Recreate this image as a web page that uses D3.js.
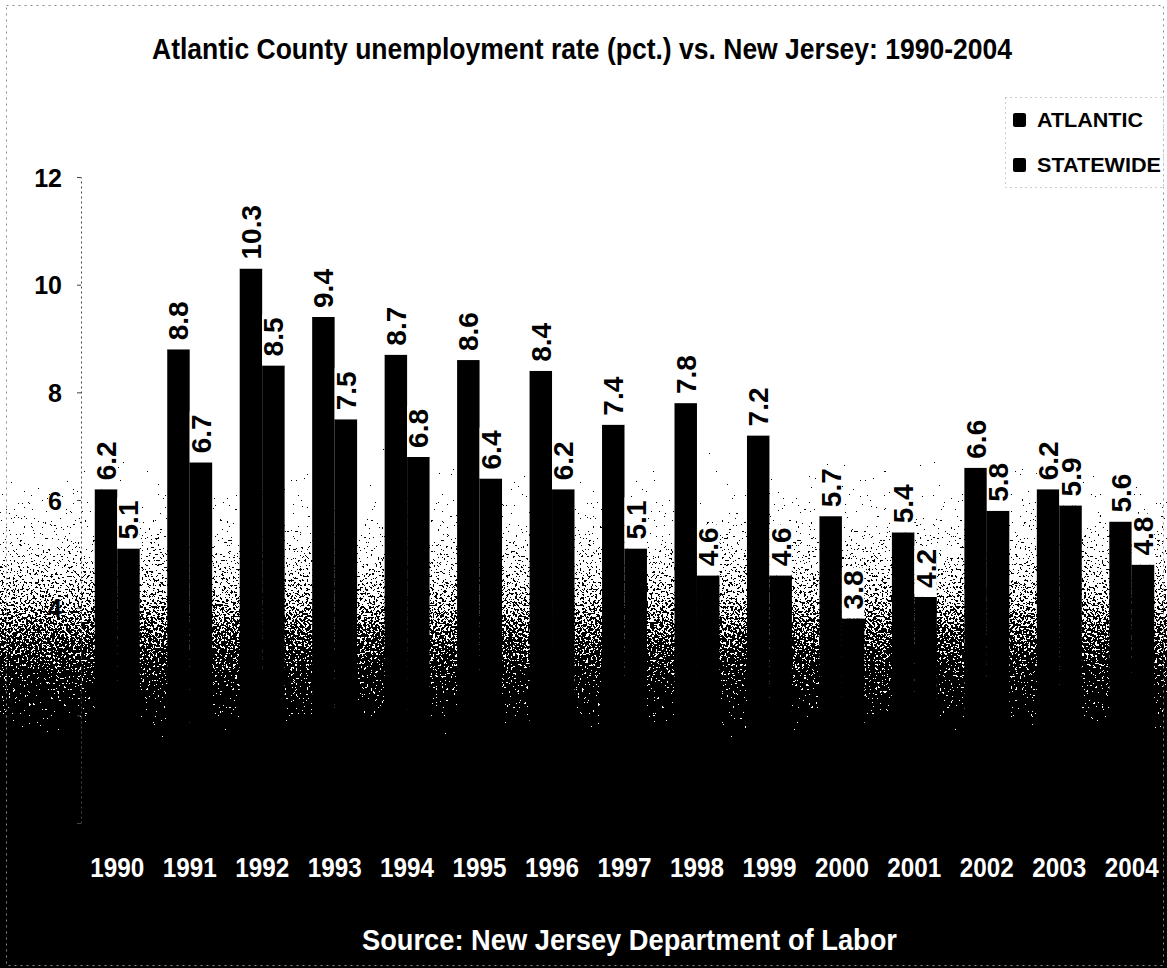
<!DOCTYPE html>
<html>
<head>
<meta charset="utf-8">
<script src="https://cdn.jsdelivr.net/npm/d3@7"></script>
<style>
  html, body { margin: 0; padding: 0; background: #fff; }
  svg { display: block; }
  text { font-family: "Liberation Sans", Arial, Helvetica, sans-serif; font-weight: bold; }
</style>
</head>
<body>
<svg id="chart" width="1167" height="968"></svg>
<script>
// Annual unemployment rate (percent), Atlantic County vs. New Jersey statewide
const years = ["1990", "1991", "1992", "1993", "1994", "1995", "1996", "1997",
               "1998", "1999", "2000", "2001", "2002", "2003", "2004"];
const atlantic  = [6.2, 8.8, 10.3, 9.4, 8.7, 8.6, 8.4, 7.4, 7.8, 7.2, 5.7, 5.4, 6.6, 6.2, 5.6];
const statewide = [5.1, 6.7, 8.5, 7.5, 6.8, 6.4, 6.2, 5.1, 4.6, 4.6, 3.8, 4.2, 5.8, 5.9, 4.8];
const seriesNames = ["ATLANTIC", "STATEWIDE"];
const yTicks = [0, 2, 4, 6, 8, 10, 12];

const titleText = "Atlantic County unemployment rate (pct.) vs. New Jersey: 1990-2004";
const sourceText = "Source: New Jersey Department of Labor";

const W = 1167, H = 968;
const svg = d3.select("#chart");
const defs = svg.append("defs");

// Paper fades from white to black toward the bottom; the grey levels are
// turned into a grainy black/white dither by the filter below.
// Each stop is [y in px, tone]; tone is remapped so that the fully white
// and fully black ends stay free of grain.
const toLevel = g => Math.max(0, Math.min(1, (g + 0.1) / 1.2));
const fadeStops = [[0, 1.2], [430, 1.0], [450, 0.80], [475, 0.74], [505, 0.70],
  [535, 0.643], [565, 0.584], [595, 0.506], [625, 0.403], [655, 0.325],
  [685, 0.255], [715, 0.19], [750, 0.0], [775, -0.1], [968, -0.1]];
const grad = defs.append("linearGradient")
  .attr("id", "fade").attr("gradientUnits", "userSpaceOnUse")
  .attr("x1", 0).attr("y1", 0).attr("x2", 0).attr("y2", H);
fadeStops.forEach(([py, g]) => {
  const v = Math.round(toLevel(g) * 255);
  grad.append("stop").attr("offset", py / H).attr("stop-color", `rgb(${v},${v},${v})`);
});

const grain = defs.append("filter")
  .attr("id", "grain").attr("filterUnits", "userSpaceOnUse")
  .attr("x", 0).attr("y", 0).attr("width", W).attr("height", H)
  .attr("color-interpolation-filters", "sRGB");
grain.append("feTurbulence")
  .attr("type", "fractalNoise").attr("baseFrequency", 0.45)
  .attr("numOctaves", 3).attr("seed", 7).attr("result", "noiseRaw");
grain.append("feColorMatrix")
  .attr("in", "noiseRaw").attr("type", "matrix")
  .attr("values", "1 0 0 0 0  1 0 0 0 0  1 0 0 0 0  0 0 0 0 1")
  .attr("result", "noise");
grain.append("feComposite")
  .attr("in", "SourceGraphic").attr("in2", "noise")
  .attr("operator", "arithmetic")
  .attr("k1", 0).attr("k2", 1.2).attr("k3", 1.0).attr("k4", -0.53)
  .attr("result", "mix");
const ct = grain.append("feComponentTransfer").attr("in", "mix");
["feFuncR", "feFuncG", "feFuncB"].forEach(f =>
  ct.append(f).attr("type", "discrete").attr("tableValues", "0 1"));
ct.append("feFuncA").attr("type", "discrete").attr("tableValues", "1 1");

svg.append("rect")
  .attr("x", 0).attr("y", 0).attr("width", W).attr("height", H)
  .attr("fill", "url(#fade)").attr("filter", "url(#grain)");

// Frame
svg.append("rect")
  .attr("x", 6.5).attr("y", 5.5).attr("width", 1157).attr("height", 960)
  .attr("fill", "none").attr("stroke", "#8a8a8a").attr("stroke-width", 1)
  .attr("stroke-dasharray", "2,4");

// Scales
const x0 = d3.scaleBand().domain(years).range([81, 1168])
  .paddingInner(0.38).paddingOuter(0.19);
const x1 = d3.scaleBand().domain(seriesNames).range([0, x0.bandwidth()]).padding(0);
const y = d3.scaleLinear().domain([0, 12]).range([823, 177]);

const rows = years.map((yr, i) => ({ year: yr, values: [
  { key: seriesNames[0], value: atlantic[i] },
  { key: seriesNames[1], value: statewide[i] }
]}));

// Bars
const groups = svg.append("g").selectAll("g").data(rows).join("g")
  .attr("transform", d => `translate(${x0(d.year)},0)`);
groups.selectAll("rect").data(d => d.values).join("rect")
  .attr("x", d => x1(d.key))
  .attr("y", d => y(d.value))
  .attr("width", x1.bandwidth())
  .attr("height", d => y(0) - y(d.value))
  .attr("fill", "#000");

// Value labels, rotated, on white boxes above each bar
const labels = groups.selectAll("g.lbl").data(d => d.values).join("g")
  .attr("class", "lbl")
  .attr("transform", d => `translate(${x1(d.key) + x1.bandwidth() / 2},${y(d.value)})`);
labels.append("rect").attr("fill", "#fff");
const ltxt = labels.append("text")
  .attr("transform", "translate(10,-9) rotate(-90)")
  .attr("text-anchor", "start")
  .attr("font-size", 28)
  .attr("fill", "#000")
  .text(d => d.value.toFixed(1));
ltxt.each(function () {
  const len = this.getComputedTextLength();
  d3.select(this.parentNode).select("rect")
    .attr("x", -x1.bandwidth() / 2)
    .attr("width", x1.bandwidth())
    .attr("y", -(9 + len + 3))
    .attr("height", 9 + len + 3);
});

// Y axis
const yAxis = svg.append("g").attr("transform", "translate(81,0)")
  .call(d3.axisLeft(y).tickValues(yTicks).tickSize(4).tickSizeOuter(0).tickPadding(15));
yAxis.select(".domain").attr("stroke", "#444").attr("stroke-dasharray", "2,3");
yAxis.selectAll(".tick line").attr("stroke", "#444");
yAxis.selectAll(".tick text")
  .attr("font-size", 25).attr("font-family", null).attr("fill", "#000")
  .attr("dy", "0.36em");

// Year labels
const xAxis = svg.append("g").attr("transform", "translate(0,877)")
  .call(d3.axisBottom(x0).tickSize(0).tickPadding(0));
xAxis.select(".domain").remove();
xAxis.selectAll(".tick text")
  .attr("y", 0).attr("dy", 0)
  .attr("font-size", 28).attr("font-family", null).attr("fill", "#fff")
  .attr("textLength", 54).attr("lengthAdjust", "spacingAndGlyphs");

// Title
svg.append("text")
  .attr("x", 582).attr("y", 59).attr("text-anchor", "middle")
  .attr("font-size", 29).attr("fill", "#000")
  .attr("textLength", 860).attr("lengthAdjust", "spacingAndGlyphs")
  .text(titleText);

// Source line
svg.append("text")
  .attr("x", 362).attr("y", 950).attr("text-anchor", "start")
  .attr("font-size", 30).attr("fill", "#fff")
  .attr("textLength", 535).attr("lengthAdjust", "spacingAndGlyphs")
  .text(sourceText);

// Legend
const legend = svg.append("g");
legend.append("rect")
  .attr("x", 1005.5).attr("y", 97.5).attr("width", 158).attr("height", 90)
  .attr("fill", "#fff").attr("stroke", "#9a9a9a").attr("stroke-dasharray", "1,4");
const legendRows = [
  { name: seriesNames[0], y: 127, len: 106 },
  { name: seriesNames[1], y: 172, len: 124 }
];
const li = legend.selectAll("g.item").data(legendRows).join("g").attr("class", "item");
li.append("rect")
  .attr("x", 1013).attr("y", d => d.y - 14).attr("width", 13).attr("height", 14)
  .attr("rx", 2).attr("fill", "#000");
li.append("text")
  .attr("x", 1037).attr("y", d => d.y)
  .attr("font-size", 20).attr("fill", "#000")
  .attr("textLength", d => d.len).attr("lengthAdjust", "spacingAndGlyphs")
  .text(d => d.name);
</script>
</body>
</html>
